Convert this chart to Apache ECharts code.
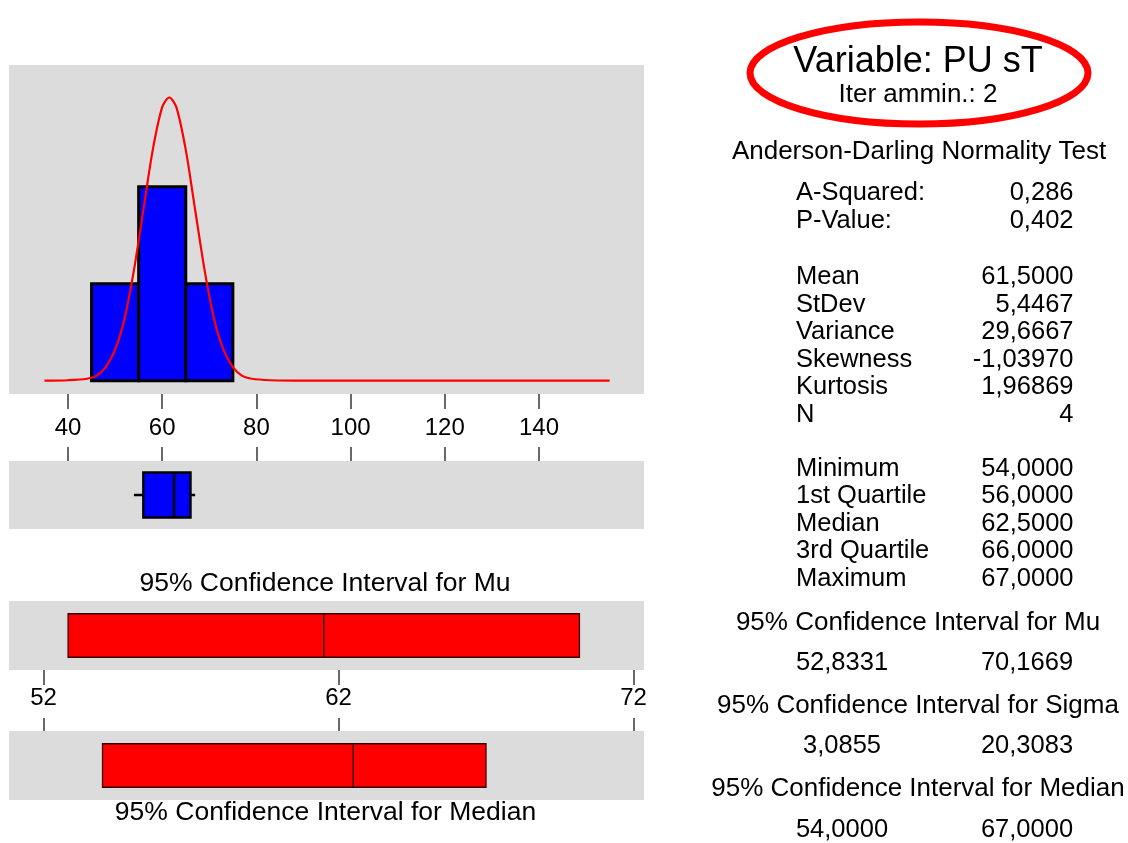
<!DOCTYPE html>
<html>
<head>
<meta charset="utf-8">
<title>Graphical Summary - PU sT</title>
<script src="https://cdn.jsdelivr.net/npm/echarts@6/dist/echarts.min.js"></script>
<style>
  html, body { margin: 0; padding: 0; background: #fff; }
  #chart { width: 1128px; height: 843px; }
</style>
</head>
<body>
<div id="chart"></div>
<script>
// histogram bins (value range + count)
const binStarts = [45, 55, 65];
const binEnds = [55, 65, 75];
const binCounts = [1, 2, 1];

// fitted normal curve (x, height in counts)
const curveX = [35, 40, 44, 46, 48, 50, 52, 54, 56, 58, 60, 61.5, 63, 65, 67, 69, 71, 73, 75, 77, 79, 83, 90, 155];
const curveY = [0, 0.005, 0.02, 0.05, 0.14, 0.32, 0.64, 1.14, 1.76, 2.38, 2.82, 2.92, 2.82, 2.38, 1.76, 1.14, 0.64, 0.32, 0.14, 0.05, 0.02, 0.005, 0, 0];

// boxplot: min, Q1, median, Q3, max
const boxValues = [54, 56, 62.5, 66, 67];

// confidence intervals: low, centre, high
const ciMu = [52.8331, 61.5, 70.1669];
const ciMedian = [54, 62.5, 67];

const histTicks = [40, 60, 80, 100, 120, 140];
const ciTicks = [52, 62, 72];

// stats table text
const titleMain = "Variable: PU sT";
const titleSub = "Iter ammin.: 2";
const adTitle = "Anderson-Darling Normality Test";
const adLabels = ["A-Squared:", "P-Value:"];
const adValues = ["0,286", "0,402"];
const momentLabels = ["Mean", "StDev", "Variance", "Skewness", "Kurtosis", "N"];
const momentValues = ["61,5000", "5,4467", "29,6667", "-1,03970", "1,96869", "4"];
const quantLabels = ["Minimum", "1st Quartile", "Median", "3rd Quartile", "Maximum"];
const quantValues = ["54,0000", "56,0000", "62,5000", "66,0000", "67,0000"];
const ciTitles = ["95% Confidence Interval for Mu", "95% Confidence Interval for Sigma", "95% Confidence Interval for Median"];
const ciLows = ["52,8331", "3,0855", "54,0000"];
const ciHighs = ["70,1669", "20,3083", "67,0000"];

const FONT = '"Liberation Sans", Arial, Helvetica, sans-serif';
const GRAY = "#dcdcdc";

function txt(text, x, y, size, align) {
  return {
    type: "text",
    silent: true,
    style: {
      text: text, x: x, y: y,
      font: size + "px " + FONT,
      fill: "#000",
      align: align, textAlign: align,
      verticalAlign: "middle", textVerticalAlign: "middle"
    }
  };
}

function buildStats() {
  const out = [];
  out.push({
    type: "ellipse",
    silent: true,
    shape: { cx: 919, cy: 73, rx: 169, ry: 51 },
    style: { fill: "none", stroke: "#ff0000", lineWidth: 7 }
  });
  out.push(txt(titleMain, 918, 62, 36, "center"));
  out.push(txt(titleSub, 918, 95, 26, "center"));
  out.push(txt(adTitle, 919, 152, 26, "center"));
  const rows = [
    [adLabels, adValues, 193],
    [momentLabels, momentValues, 277],
    [quantLabels, quantValues, 468.6]
  ];
  rows.forEach(([labels, values, y0]) => {
    labels.forEach((label, i) => {
      const y = y0 + i * 27.6;
      out.push(txt(label, 796, y, 25.5, "left"));
      out.push(txt(values[i], 1073.5, y, 25.5, "right"));
    });
  });
  const ciTitleY = [622.7, 706, 788.7];
  const ciValueY = [663, 746, 830];
  ciTitles.forEach((t, i) => {
    out.push(txt(t, 918, ciTitleY[i], 26, "center"));
    out.push(txt(ciLows[i], 842, ciValueY[i], 25.5, "center"));
    out.push(txt(ciHighs[i], 1027, ciValueY[i], 25.5, "center"));
  });
  out.push(txt("95% Confidence Interval for Mu", 325, 584, 26.5, "center"));
  out.push(txt("95% Confidence Interval for Median", 325.5, 813, 26.5, "center"));
  return out;
}

const chart = echarts.init(document.getElementById("chart"), null, { renderer: "canvas" });

const gridBase = { left: 9, width: 635, show: true, backgroundColor: GRAY, borderWidth: 0 };
const tickStyle = { color: "#444", width: 1.6 };
const noLine = { show: false, onZero: false };

function hiddenY(idx, min, max) {
  return { type: "value", gridIndex: idx, min: min, max: max, show: false };
}

function renderHist(params, api) {
  const p0 = api.coord([api.value(0), api.value(2)]);
  const p1 = api.coord([api.value(1), 0]);
  return {
    type: "rect",
    shape: { x: p0[0], y: p0[1], width: p1[0] - p0[0], height: p1[1] - p0[1] },
    style: { fill: "#0000ff", stroke: "#000", lineWidth: 3 }
  };
}

function renderBox(params, api) {
  const v = [0, 1, 2, 3, 4].map(i => api.value(i));
  const h = 0.66;
  const minP = api.coord([v[0], 0]);
  const q1Top = api.coord([v[1], h]);
  const q3Bot = api.coord([v[3], -h]);
  const medTop = api.coord([v[2], h]);
  const medBot = api.coord([v[2], -h]);
  const q1Mid = api.coord([v[1], 0]);
  const q3Mid = api.coord([v[3], 0]);
  const maxP = api.coord([v[4], 0]);
  const line = { stroke: "#000", lineWidth: 2.5 };
  return {
    type: "group",
    children: [
      { type: "line", shape: { x1: minP[0], y1: minP[1], x2: q1Mid[0], y2: q1Mid[1] }, style: line },
      { type: "line", shape: { x1: q3Mid[0], y1: q3Mid[1], x2: maxP[0], y2: maxP[1] }, style: line },
      { type: "rect", shape: { x: q1Top[0], y: q1Top[1], width: q3Bot[0] - q1Top[0], height: q3Bot[1] - q1Top[1] },
        style: { fill: "#0000ff", stroke: "#000", lineWidth: 2.5 } },
      { type: "line", shape: { x1: medTop[0], y1: medTop[1], x2: medBot[0], y2: medBot[1] }, style: line }
    ]
  };
}

function renderCI(params, api) {
  const h = 0.63;
  const a = api.coord([api.value(0), h]);
  const b = api.coord([api.value(2), -h]);
  const mt = api.coord([api.value(1), h]);
  const mb = api.coord([api.value(1), -h]);
  return {
    type: "group",
    children: [
      { type: "rect", shape: { x: a[0], y: a[1], width: b[0] - a[0], height: b[1] - a[1] },
        style: { fill: "#ff0000", stroke: "#3a0000", lineWidth: 1.3 } },
      { type: "line", shape: { x1: mt[0], y1: mt[1], x2: mb[0], y2: mb[1] },
        style: { stroke: "#1a0000", lineWidth: 1.3 } }
    ]
  };
}

const HIST_MIN = 27.47, HIST_MAX = 162.3;
const CI_MIN = 50.83, CI_MAX = 72.356;

chart.setOption({
  backgroundColor: "#fff",
  animation: false,
  grid: [
    Object.assign({ top: 65, height: 329 }, gridBase),
    Object.assign({ top: 461, height: 68 }, gridBase),
    Object.assign({ top: 601, height: 69 }, gridBase),
    Object.assign({ top: 731, height: 69 }, gridBase)
  ],
  xAxis: [
    {
      type: "value", gridIndex: 0, position: "bottom", min: HIST_MIN, max: HIST_MAX,
      axisLine: noLine, splitLine: { show: false },
      axisTick: { show: true, length: 15, lineStyle: tickStyle, customValues: histTicks },
      axisLabel: { show: true, customValues: histTicks, margin: 34, verticalAlign: "middle",
        fontSize: 24, fontFamily: FONT, color: "#000" }
    },
    {
      type: "value", gridIndex: 1, position: "top", min: HIST_MIN, max: HIST_MAX,
      axisLine: noLine, splitLine: { show: false },
      axisTick: { show: true, length: 14, lineStyle: tickStyle, customValues: histTicks },
      axisLabel: { show: false }
    },
    {
      type: "value", gridIndex: 2, position: "bottom", min: CI_MIN, max: CI_MAX,
      axisLine: noLine, splitLine: { show: false },
      axisTick: { show: true, length: 15, lineStyle: tickStyle, customValues: ciTicks },
      axisLabel: { show: true, customValues: ciTicks, margin: 28, verticalAlign: "middle",
        fontSize: 24, fontFamily: FONT, color: "#000", showMinLabel: true, showMaxLabel: true }
    },
    {
      type: "value", gridIndex: 3, position: "top", min: CI_MIN, max: CI_MAX,
      axisLine: noLine, splitLine: { show: false },
      axisTick: { show: true, length: 13, lineStyle: tickStyle, customValues: ciTicks },
      axisLabel: { show: false }
    }
  ],
  yAxis: [
    hiddenY(0, -0.137, 3.255),
    hiddenY(1, -1, 1),
    hiddenY(2, -1, 1),
    hiddenY(3, -1, 1)
  ],
  series: [
    {
      type: "custom", xAxisIndex: 0, yAxisIndex: 0,
      renderItem: renderHist,
      encode: { x: [0, 1], y: 2 },
      data: binStarts.map((s, i) => [s, binEnds[i], binCounts[i]]),
      z: 2
    },
    {
      type: "line", xAxisIndex: 0, yAxisIndex: 0,
      data: curveX.map((x, i) => [x, curveY[i]]),
      smooth: 0.3, showSymbol: false, silent: true,
      lineStyle: { color: "#ff0000", width: 2.2 },
      z: 3
    },
    {
      type: "custom", xAxisIndex: 1, yAxisIndex: 1,
      renderItem: renderBox,
      encode: { x: [0, 1, 2, 3, 4] },
      data: [boxValues]
    },
    {
      type: "custom", xAxisIndex: 2, yAxisIndex: 2,
      renderItem: renderCI,
      encode: { x: [0, 1, 2] },
      data: [ciMu]
    },
    {
      type: "custom", xAxisIndex: 3, yAxisIndex: 3,
      renderItem: renderCI,
      encode: { x: [0, 1, 2] },
      data: [ciMedian]
    }
  ],
  graphic: buildStats()
});
</script>
</body>
</html>
